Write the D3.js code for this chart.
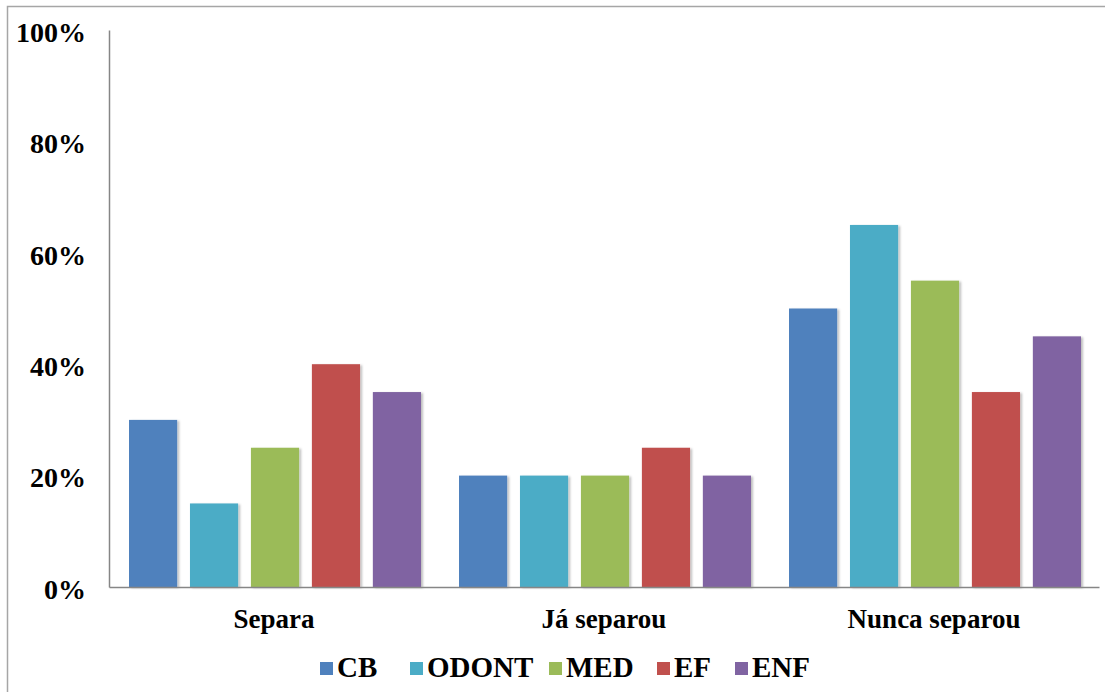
<!DOCTYPE html>
<html>
<head>
<meta charset="utf-8">
<script src="https://cdn.jsdelivr.net/npm/d3@7"></script>
<style>
  html, body { margin: 0; padding: 0; background: #fff; }
  svg { display: block; }
</style>
</head>
<body>
<svg id="chart" width="1105" height="692"></svg>
<script>
// Categories and series
const categories = ["Separa", "Já separou", "Nunca separou"];
const seriesNames = ["CB", "ODONT", "MED", "EF", "ENF"];
const seriesColors = ["#4F81BD", "#4BACC6", "#9BBB59", "#C0504D", "#8064A2"];

// Percentages per series, one entry per category
const cbValues    = [30, 20, 50];
const odontValues = [15, 20, 65];
const medValues   = [25, 20, 55];
const efValues    = [40, 25, 35];
const enfValues   = [35, 20, 45];

const yTicks = [0, 20, 40, 60, 80, 100];

const seriesValues = [cbValues, odontValues, medValues, efValues, enfValues];

// Bold serif labels, applied directly on each text node
function serifLabel(sel, size) {
  sel.style("font-family", "'Liberation Serif'")
     .style("font-weight", "bold")
     .style("font-size", size + "px")
     .attr("fill", "#000");
}

const svg = d3.select("#chart");

// Chart area frame
svg.append("rect")
  .attr("x", 7.5).attr("y", 6.5)
  .attr("width", 1110).attr("height", 700)
  .attr("fill", "none")
  .attr("stroke", "#a6a6a6")
  .attr("stroke-width", 1.5);

// Soft shadow for bars
const defs = svg.append("defs");
const shadow = defs.append("filter").attr("id", "barShadow")
  .attr("x", "-10%").attr("y", "-5%").attr("width", "130%").attr("height", "115%");
shadow.append("feDropShadow")
  .attr("dx", 2).attr("dy", 1).attr("stdDeviation", 1.2)
  .attr("flood-color", "#000").attr("flood-opacity", 0.25);

const x0 = d3.scaleBand().domain(categories).range([109, 1099]);
const x1 = d3.scaleBand().domain(seriesNames).range([20, 312]).paddingInner(0.21);
const y = d3.scaleLinear().domain([0, 100]).range([587, 30]);

// Bars
const groups = svg.append("g").selectAll("g")
  .data(categories)
  .join("g")
  .attr("transform", d => `translate(${x0(d)},0)`);

groups.selectAll("rect")
  .data((cat, ci) => seriesNames.map((s, si) => ({ s, si, v: seriesValues[si][ci] })))
  .join("rect")
  .attr("x", d => x1(d.s))
  .attr("y", d => y(d.v))
  .attr("width", x1.bandwidth())
  .attr("height", d => y(0) - y(d.v))
  .attr("fill", d => seriesColors[d.si])
  .attr("filter", "url(#barShadow)");

// Y axis
const yAxis = svg.append("g")
  .attr("transform", "translate(109,0)")
  .call(d3.axisLeft(y).tickValues(yTicks).tickFormat(d => d + "%").tickSize(0).tickPadding(23));
yAxis.select(".domain").attr("stroke", "#868686").attr("stroke-width", 1.5);
yAxis.selectAll("text").call(serifLabel, 28).attr("dy", "0.4em");

// X axis
const xAxis = svg.append("g")
  .attr("transform", "translate(0,587)")
  .call(d3.axisBottom(x0).tickSize(0).tickPadding(22));
xAxis.select(".domain").attr("stroke", "#868686").attr("stroke-width", 1.5);
xAxis.selectAll("text").call(serifLabel, 27);

// Legend
const legendX = [320, 410, 549, 657, 735];
const legend = svg.append("g")
  .selectAll("g")
  .data(seriesNames)
  .join("g")
  .attr("transform", (d, i) => `translate(${legendX[i]},0)`);
legend.append("rect")
  .attr("x", 0).attr("y", 662)
  .attr("width", 13).attr("height", 13)
  .attr("fill", (d, i) => seriesColors[i]);
legend.append("text")
  .attr("x", 17).attr("y", 677)
  .call(serifLabel, 29)
  .text(d => d);
</script>
</body>
</html>
